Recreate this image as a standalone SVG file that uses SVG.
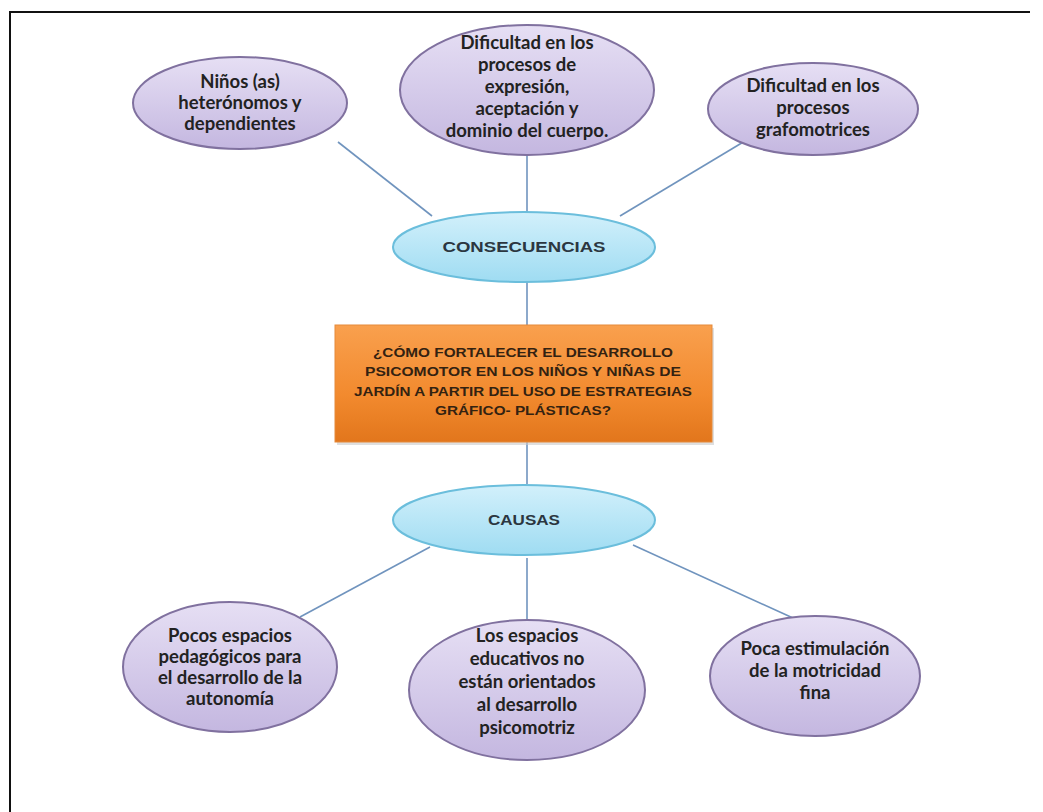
<svg xmlns="http://www.w3.org/2000/svg" width="1043" height="812" viewBox="0 0 1043 812">
<defs>
<linearGradient id="lav" x1="0" y1="0" x2="0" y2="1">
<stop offset="0" stop-color="#E6DFF4"/>
<stop offset="1" stop-color="#C4B7E0"/>
</linearGradient>
<linearGradient id="blu" x1="0" y1="0" x2="0" y2="1">
<stop offset="0" stop-color="#D2F0FB"/>
<stop offset="1" stop-color="#9FDCF2"/>
</linearGradient>
<linearGradient id="org" x1="0" y1="0" x2="0" y2="1">
<stop offset="0" stop-color="#F9A04E"/>
<stop offset="0.6" stop-color="#F28A2E"/>
<stop offset="1" stop-color="#E2761C"/>
</linearGradient>
</defs>
<style>
.lav{fill:url(#lav);stroke:#80719F;stroke-width:2}
.blu{fill:url(#blu);stroke:#6BBEDC;stroke-width:2}
.t{font-family:Lato,"Liberation Sans",sans-serif;font-weight:bold;font-size:18.5px;fill:#222;text-anchor:middle}
.c{font-family:"Liberation Sans",Arial,sans-serif;font-weight:bold;font-size:14px;fill:#2B3640;text-anchor:middle}
.q{font-family:"Liberation Sans",Arial,sans-serif;font-weight:bold;font-size:13px;fill:#332211;text-anchor:middle}
.ln{stroke:#7094BE;stroke-width:1.6;fill:none}
</style>
<rect width="1043" height="812" fill="#FFFFFF"/>
<path d="M10,812 V12 H1030" fill="none" stroke="#111" stroke-width="2"/>
<g id="connectors">
<line class="ln" x1="338" y1="142" x2="432" y2="216"/>
<line class="ln" x1="527" y1="155" x2="527" y2="212"/>
<line class="ln" x1="745" y1="141" x2="620" y2="216"/>
<line class="ln" x1="527" y1="282" x2="527" y2="325"/>
<line class="ln" x1="527" y1="442" x2="527" y2="484"/>
<line class="ln" x1="430" y1="547" x2="300" y2="617"/>
<line class="ln" x1="527" y1="558" x2="527" y2="620"/>
<line class="ln" x1="633" y1="545" x2="793" y2="618"/>
</g>
<g id="n1">
<ellipse class="lav" cx="240" cy="103" rx="107" ry="46"/>
<text class="t" x="240" y="88">Niños (as)</text>
<text class="t" x="240" y="109">heterónomos y</text>
<text class="t" x="240" y="130">dependientes</text>
</g>
<g id="n2">
<ellipse class="lav" cx="527" cy="90" rx="127" ry="65"/>
<text class="t" x="527" y="49">Dificultad en los</text>
<text class="t" x="527" y="71">procesos de</text>
<text class="t" x="527" y="93">expresión,</text>
<text class="t" x="527" y="115">aceptación y</text>
<text class="t" x="527" y="137">dominio del cuerpo.</text>
</g>
<g id="n3">
<ellipse class="lav" cx="813" cy="109" rx="105" ry="46"/>
<text class="t" x="813" y="92">Dificultad en los</text>
<text class="t" x="813" y="114">procesos</text>
<text class="t" x="813" y="136">grafomotrices</text>
</g>
<g id="n4">
<ellipse class="blu" cx="524" cy="247" rx="131" ry="35"/>
<text class="c" x="524" y="252" textLength="163" lengthAdjust="spacingAndGlyphs">CONSECUENCIAS</text>
</g>
<g id="n5">
<rect x="337" y="328" width="377" height="117" fill="#C9C9C9" opacity="0.6"/>
<rect x="335" y="325" width="377" height="117" fill="url(#org)" stroke="#E58A3A" stroke-width="1"/>
<text class="q" x="523" y="357" textLength="300" lengthAdjust="spacingAndGlyphs">¿CÓMO FORTALECER EL DESARROLLO</text>
<text class="q" x="523" y="376" textLength="316" lengthAdjust="spacingAndGlyphs">PSICOMOTOR EN LOS NIÑOS Y NIÑAS DE</text>
<text class="q" x="523" y="396" textLength="338" lengthAdjust="spacingAndGlyphs">JARDÍN A PARTIR DEL USO DE ESTRATEGIAS</text>
<text class="q" x="523" y="415" textLength="176" lengthAdjust="spacingAndGlyphs">GRÁFICO- PLÁSTICAS?</text>
</g>
<g id="n6">
<ellipse class="blu" cx="524" cy="520" rx="131" ry="35"/>
<text class="c" x="524" y="525" textLength="72" lengthAdjust="spacingAndGlyphs">CAUSAS</text>
</g>
<g id="n7">
<ellipse class="lav" cx="230" cy="667" rx="107" ry="65"/>
<text class="t" x="230" y="642">Pocos espacios</text>
<text class="t" x="230" y="663">pedagógicos para</text>
<text class="t" x="230" y="684">el desarrollo de la</text>
<text class="t" x="230" y="705">autonomía</text>
</g>
<g id="n8">
<ellipse class="lav" cx="527" cy="690" rx="118" ry="70"/>
<text class="t" x="527" y="642">Los espacios</text>
<text class="t" x="527" y="665">educativos no</text>
<text class="t" x="527" y="688">están orientados</text>
<text class="t" x="527" y="711">al desarrollo</text>
<text class="t" x="527" y="734">psicomotriz</text>
</g>
<g id="n9">
<ellipse class="lav" cx="815" cy="676" rx="105" ry="60"/>
<text class="t" x="815" y="655">Poca estimulación</text>
<text class="t" x="815" y="677">de la motricidad</text>
<text class="t" x="815" y="699">fina</text>
</g>
</svg>
